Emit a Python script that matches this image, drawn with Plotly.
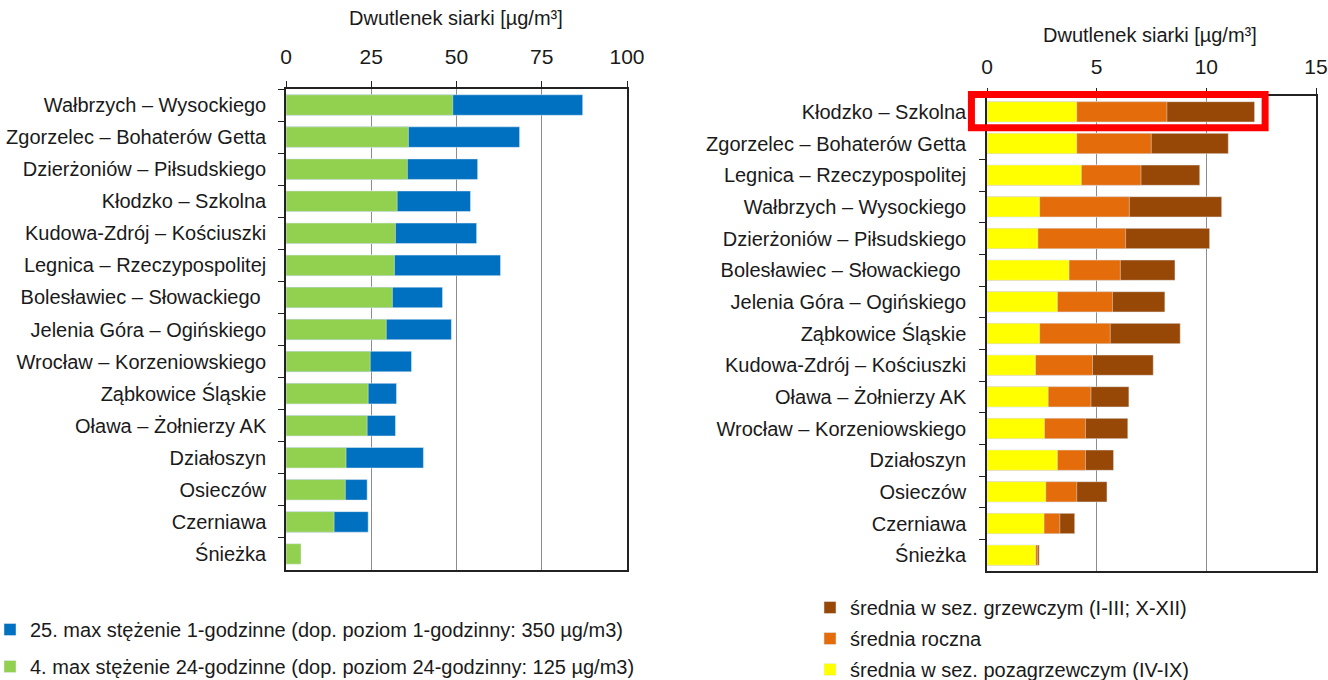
import plotly.graph_objects as go

# ---- data: left panel (max concentrations) ----
left_stations = [
    "Wałbrzych – Wysockiego", "Zgorzelec – Bohaterów Getta", "Dzierżoniów – Piłsudskiego",
    "Kłodzko – Szkolna", "Kudowa-Zdrój – Kościuszki", "Legnica – Rzeczypospolitej",
    "Bolesławiec – Słowackiego ", "Jelenia Góra – Ogińskiego", "Wrocław – Korzeniowskiego",
    "Ząbkowice Śląskie", "Oława – Żołnierzy AK", "Działoszyn", "Osieczów", "Czerniawa", "Śnieżka",
]
max_1h_25 = [87.0, 68.5, 56.2, 54.1, 55.9, 62.9, 45.9, 48.5, 36.8, 32.4, 32.1, 40.3, 23.8, 24.1, None]
max_24h_4 = [48.9, 35.9, 35.6, 32.6, 32.1, 31.8, 31.2, 29.4, 24.7, 24.1, 23.8, 17.6, 17.4, 14.1, 4.4]

# ---- data: right panel (averages) ----
right_stations = [
    "Kłodzko – Szkolna", "Zgorzelec – Bohaterów Getta", "Legnica – Rzeczypospolitej",
    "Wałbrzych – Wysockiego", "Dzierżoniów – Piłsudskiego", "Bolesławiec – Słowackiego ",
    "Jelenia Góra – Ogińskiego", "Ząbkowice Śląskie", "Kudowa-Zdrój – Kościuszki",
    "Oława – Żołnierzy AK", "Wrocław – Korzeniowskiego", "Działoszyn", "Osieczów", "Czerniawa", "Śnieżka",
]
avg_heating = [12.2, 11.0, 9.7, 10.7, 10.15, 8.57, 8.11, 8.81, 7.58, 6.47, 6.42, 5.77, 5.47, 4.0, 2.38]
avg_annual = [8.2, 7.49, 7.02, 6.49, 6.32, 6.08, 5.72, 5.62, 4.81, 4.74, 4.49, 4.49, 4.09, 3.32, 2.31]
avg_nonheating = [4.09, 4.09, 4.30, 2.40, 2.32, 3.74, 3.21, 2.40, 2.21, 2.79, 2.62, 3.21, 2.68, 2.60, 2.22]

left_ticks = [0, 25, 50, 75, 100]
right_ticks = [0, 5, 10, 15]
axis_title = "Dwutlenek siarki [µg/m³]"
highlight_station = "Kłodzko – Szkolna"

FONT = "Liberation Sans, Arial, sans-serif"
TXT = "#1a1a1a"

fig = go.Figure()

fig.add_trace(go.Bar(y=left_stations, x=max_1h_25, orientation="h", marker_color="#0070C0",
                     name="25. max stężenie 1-godzinne (dop. poziom 1-godzinny: 350 µg/m3)",
                     xaxis="x", yaxis="y", legend="legend", legendgroup="a", legendrank=1, opacity=1))
fig.add_trace(go.Bar(y=left_stations, x=max_24h_4, orientation="h", marker_color="#92D050",
                     name="4. max stężenie 24-godzinne (dop. poziom 24-godzinny: 125 µg/m3)",
                     xaxis="x", yaxis="y", legend="legend", legendgroup="b", legendrank=2, opacity=1))

fig.add_trace(go.Bar(y=right_stations, x=avg_heating, orientation="h", marker_color="#974706",
                     name="średnia w sez. grzewczym (I-III; X-XII)",
                     xaxis="x2", yaxis="y2", legend="legend2", legendgroup="c", legendrank=1, opacity=1))
fig.add_trace(go.Bar(y=right_stations, x=avg_annual, orientation="h", marker_color="#E46C0A",
                     name="średnia roczna",
                     xaxis="x2", yaxis="y2", legend="legend2", legendgroup="d", legendrank=2, opacity=1))
fig.add_trace(go.Bar(y=right_stations, x=avg_nonheating, orientation="h", marker_color="#FFFF00",
                     name="średnia w sez. pozagrzewczym (IV-IX)",
                     xaxis="x2", yaxis="y2", legend="legend2", legendgroup="e", legendrank=3, opacity=1))

W, H = 1328, 680
def px_x(p):
    return p / W
def px_y(p):
    return 1 - p / H

xdom2 = [px_x(987), px_x(1316)]
ydom2 = [px_y(571), px_y(96)]
xrange2 = [0, 15]

xcommon = dict(side="top", showline=True, mirror=True, linecolor="#222", linewidth=1.5,
               showgrid=True, gridcolor="#8c8c8c", gridwidth=1, ticks="outside", ticklen=6,
               tickcolor="#222", zeroline=False, automargin=False,
               tickfont=dict(family=FONT, size=21, color=TXT))
ycommon = dict(autorange="reversed", showline=True, mirror=True, linecolor="#222", linewidth=1.5,
               ticks="outside", tickson="boundaries", ticklen=6, tickcolor="#222", automargin=False,
               tickfont=dict(family=FONT, size=20, color=TXT), showgrid=False)

fig.update_layout(
    width=W, height=H, margin=dict(l=0, r=0, t=0, b=0, autoexpand=False),
    paper_bgcolor="white", plot_bgcolor="white",
    barmode="overlay", bargap=0.36,
    font=dict(family=FONT, color=TXT),
    xaxis=dict(domain=[px_x(286), px_x(627)], anchor="y", range=[0, 100], tickvals=left_ticks,
               ticklabelstandoff=9, **xcommon),
    yaxis=dict(domain=[px_y(570), px_y(89)], anchor="x", ticklabelstandoff=14, **ycommon),
    xaxis2=dict(domain=xdom2, anchor="y2", range=xrange2, tickvals=right_ticks,
                ticklabelstandoff=6, **xcommon),
    yaxis2=dict(domain=ydom2, anchor="x2", ticklabelstandoff=15, **ycommon),
    legend=dict(x=px_x(-10), y=px_y(610), xanchor="left", yanchor="top", tracegroupgap=8,
                font=dict(family=FONT, size=20, color=TXT), bgcolor="rgba(0,0,0,0)",
                itemwidth=30),
    legend2=dict(x=px_x(810), y=px_y(588), xanchor="left", yanchor="top", tracegroupgap=2,
                 font=dict(family=FONT, size=20, color=TXT), bgcolor="rgba(0,0,0,0)",
                 itemwidth=30),
    annotations=[
        dict(text=axis_title, x=px_x(456), y=px_y(18), xref="paper", yref="paper",
             xanchor="center", yanchor="middle",
             showarrow=False, font=dict(family=FONT, size=20, color=TXT)),
        dict(text=axis_title, x=px_x(1150), y=px_y(35), xref="paper", yref="paper",
             xanchor="center", yanchor="middle",
             showarrow=False, font=dict(family=FONT, size=20, color=TXT)),
    ],
)

# highlight box around one station in the right panel (mapped through the axis domain, unclipped)
def x2_paper(v):
    return xdom2[0] + (v - xrange2[0]) / (xrange2[1] - xrange2[0]) * (xdom2[1] - xdom2[0])

n_rows = len(right_stations)
def y2_paper(idx):
    # reversed categorical axis: index -0.5 at the top of the domain
    return ydom2[1] - (idx + 0.5) / n_rows * (ydom2[1] - ydom2[0])

hi = right_stations.index(highlight_station)
fig.add_shape(type="rect", xref="paper", yref="paper",
              x0=x2_paper(-0.71), x1=x2_paper(12.68),
              y0=y2_paper(hi - 0.55), y1=y2_paper(hi + 0.5),
              line=dict(color="#FF0000", width=7), fillcolor="rgba(0,0,0,0)", layer="above")

fig.write_html("out.html", config={"displayModeBar": False},
               post_script="document.body.style.margin='0';document.body.style.overflow='hidden';")
